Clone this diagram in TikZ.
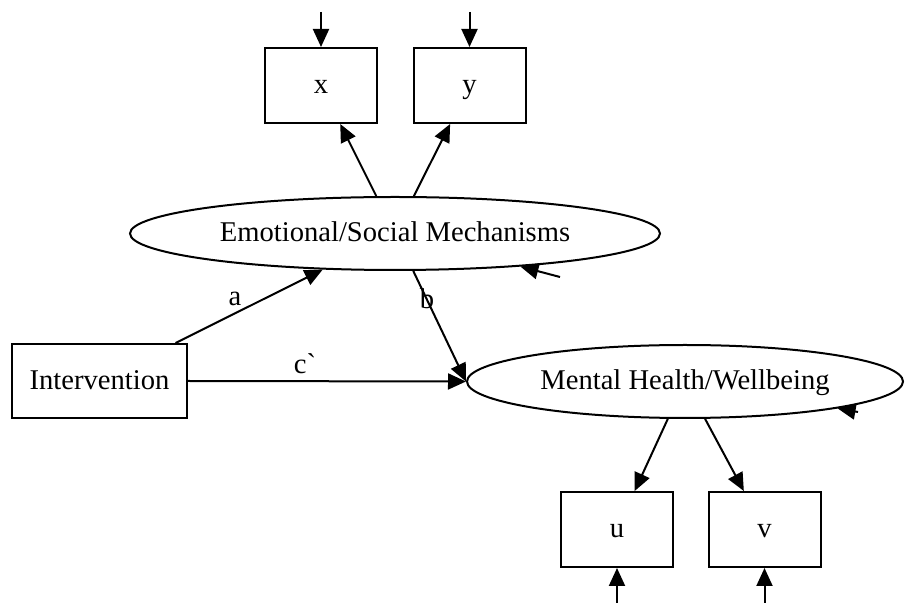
\documentclass[tikz,border=0pt]{standalone}
\usepackage{fontspec}
\setmainfont{Liberation Serif}
\usetikzlibrary{arrows.meta,shapes.geometric}
\begin{document}
\begin{tikzpicture}[x=0.5pt,y=-0.5pt,
  every node/.style={font=\fontsize{14.3}{17}\selectfont,text height=10.6pt,text depth=2.2pt},
  box/.style={draw,line width=1pt,rectangle,inner sep=0pt,minimum width=56pt,minimum height=37.5pt},
  latent/.style={draw,line width=1pt,ellipse,inner sep=0pt,minimum height=36.5pt},
  link/.style={line width=1pt,-{Triangle[length=9pt,width=8pt]}}]
\useasboundingbox (0,0) rectangle (905,603);
% observed indicators
\node[box] (x) at (321,85.5) {x};
\node[box] (y) at (469.5,85.5) {y};
\node[box] (u) at (617,529.5) {u};
\node[box] (v) at (764.5,529.5) {v};
\node[box,minimum width=87.5pt,minimum height=37pt] (int) at (99.5,381) {Intervention};
% latent variables
\node[latent,minimum width=265pt] (E1) at (395,233.5) {Emotional/Social Mechanisms};
\node[latent,minimum width=218pt] (E2) at (685,381.5) {Mental Health/Wellbeing};
% error terms
\coordinate (ex) at (321,12);
\coordinate (ey) at (469.5,12);
\coordinate (eu) at (617,603);
\coordinate (ev) at (764.5,603);
\coordinate (r1) at (560,277);
\coordinate (r2) at (858,412);
\draw[link] (ex) -- (x);
\draw[link] (ey) -- (y);
\draw[link] (eu) -- (u);
\draw[link] (ev) -- (v);
\draw[link] (r1) -- (E1);
\draw[link] (r2) -- (E2);
% measurement paths
\draw[link] (E1) -- (x);
\draw[link] (E1) -- (y);
\draw[link] (E2) -- (u);
\draw[link] (E2) -- (v);
% structural paths
\draw[link] (int) -- (E1);
\draw[link] (E1.-64) -- (E2.west);
\draw[link] (int.east) -- (E2.west);
% labels
\node (la) at (235,297) {a};
\node (lb) at (427,300) {b};
\node (lc) at (305,365) {c\textasciigrave};
\end{tikzpicture}
\end{document}
